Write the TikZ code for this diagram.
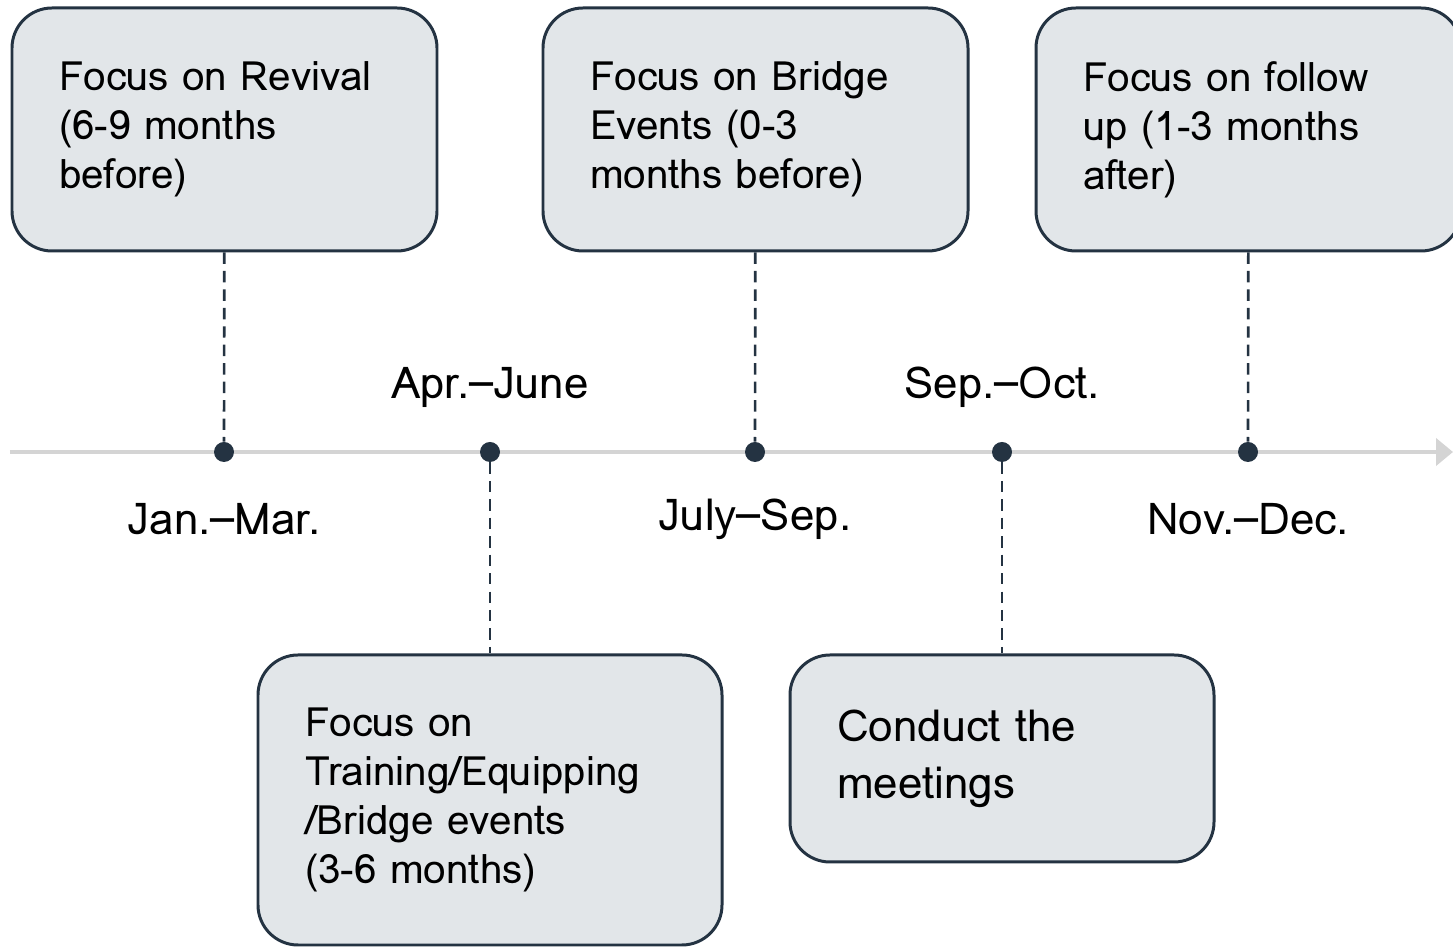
\documentclass[tikz,border=0pt]{standalone}
\usepackage{fontspec}
\setmainfont{Loma}
\usetikzlibrary{arrows.meta}

\definecolor{phasefill}{HTML}{E2E6E9}
\definecolor{phaseline}{HTML}{243342}
\definecolor{axisgray}{HTML}{D4D4D4}

\tikzset{
	phasebox/.style={draw=phaseline, fill=phasefill, line width=1.7pt,
	  rounded corners=0.8cm, align=left, inner xsep=0.94cm, inner ysep=0pt},
	tickdot/.style={circle, fill=phaseline, inner sep=0pt, minimum size=0.4cm},
	period/.style={font=\fontsize{25}{30}\selectfont},
	guide/.style={phaseline, line width=1.5pt, dash pattern=on 6.5pt off 4pt},
	timeaxis/.style={axisgray, line width=2.3pt,
	  -{Triangle[length=0.34cm, width=0.54cm]}},
}

\newcommand{\phase}[8]{
% one rounded box of the plan:
% #1 name, (#2, #3) centre, #4 text width, #5 height,
% #6 font size, #7 line distance, #8 text
	\node[phasebox, text width=#4cm, minimum height=#5cm,
	  font=\fontsize{#6}{#7}\selectfont] (#1) at (#2, #3) {#8};
}

\begin{document}
\begin{tikzpicture}
\useasboundingbox (0, 0) rectangle (29.06, 18.94);

% the time line
\coordinate (axisstart) at (0.2, 9.9);
\coordinate (axisend) at (29.06, 9.9);
\draw[timeaxis] (axisstart) -- (axisend);

% the periods
\node[tickdot] (jan) at (4.48, 9.9) {};
\node[tickdot] (apr) at (9.80, 9.9) {};
\node[tickdot] (jul) at (15.10, 9.9) {};
\node[tickdot] (sep) at (20.04, 9.9) {};
\node[tickdot] (nov) at (24.96, 9.9) {};

\node[period] (janlabel) at (4.48, 8.55) {Jan.–Mar.};
\node[period] (aprlabel) at (9.80, 11.2) {Apr.–June};
\node[period] (jullabel) at (15.10, 8.55) {July–Sep.};
\node[period] (seplabel) at (20.04, 11.2) {Sep.–Oct.};
\node[period] (novlabel) at (24.96, 8.55) {Nov.–Dec.};

% boxes above and below the line
\phase{revival}{4.49}{16.35}{6.62}{4.86}{23}{27.8}{Focus on Revival\\(6-9 months\\before)}
\phase{bridge}{15.11}{16.35}{6.62}{4.86}{23}{27.8}{Focus on Bridge\\Events (0-3\\months before)}
\phase{followup}{24.97}{16.35}{6.62}{4.86}{23}{27.8}{Focus on follow\\up (1-3 months\\after)}
\phase{training}{9.80}{2.94}{7.40}{5.80}{23}{27.8}{Focus on\\Training/Equipping\\/Bridge events\\(3-6 months)}
\phase{meetings}{20.04}{3.77}{6.60}{4.14}{25}{32.3}{Conduct the\\meetings}

\draw[guide] (revival) -- (jan);
\draw[guide] (bridge) -- (jul);
\draw[guide] (followup) -- (nov);
\draw[guide] (apr) -- (training);
\draw[guide] (sep) -- (meetings);

\end{tikzpicture}
\end{document}
